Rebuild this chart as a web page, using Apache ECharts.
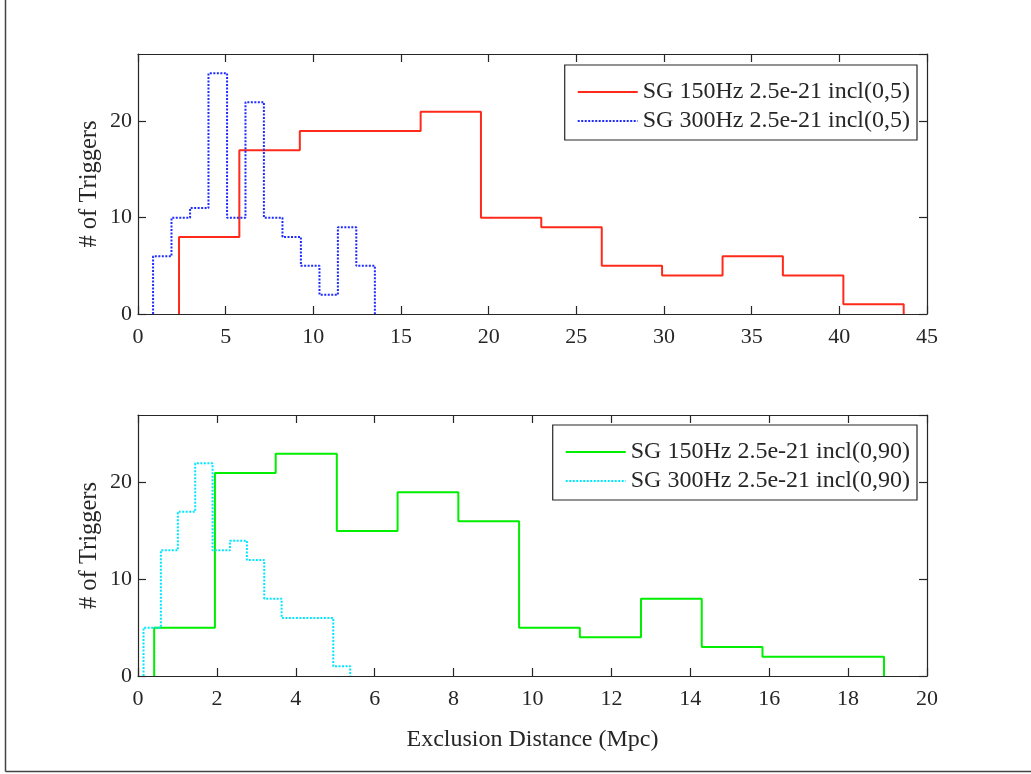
<!DOCTYPE html>
<html>
<head>
<meta charset="utf-8">
<script src="https://cdn.jsdelivr.net/npm/echarts@6/dist/echarts.min.js"></script>
<style>
html,body{margin:0;padding:0;background:#fff;}
#c{width:1031px;height:774px;}
</style>
</head>
<body>
<div id="c"></div>
<script>
// ---- data ----
var names = [
  'SG 150Hz 2.5e-21 incl(0,5)',
  'SG 300Hz 2.5e-21 incl(0,5)',
  'SG 150Hz 2.5e-21 incl(0,90)',
  'SG 300Hz 2.5e-21 incl(0,90)'
];
// top panel
var edgesRed  = [2.34, 5.78, 9.23, 12.67, 16.12, 19.56, 23.00, 26.45, 29.89, 33.34, 36.78, 40.23, 43.67];
var countsRed = [8, 17, 19, 19, 21, 10, 9, 5, 4, 6, 4, 1];
var edgesBlue  = [0.86, 1.91, 2.97, 4.02, 5.08, 6.13, 7.18, 8.24, 9.29, 10.35, 11.40, 12.45, 13.51];
var countsBlue = [6, 10, 11, 25, 10, 22, 10, 8, 5, 2, 9, 5];
// bottom panel
var edgesGreen  = [0.41, 1.95, 3.49, 5.04, 6.58, 8.12, 9.66, 11.20, 12.75, 14.29, 15.83, 17.37, 18.91];
var countsGreen = [5, 21, 23, 15, 19, 16, 5, 4, 8, 3, 2, 2];
var edgesCyan  = [0.14, 0.58, 1.01, 1.45, 1.89, 2.33, 2.76, 3.20, 3.64, 4.07, 4.51, 4.95, 5.38];
var countsCyan = [5, 13, 17, 22, 13, 14, 12, 8, 6, 6, 6, 1];
// axes
var xTopMax = 45, xTopInterval = 5;
var xBotMax = 20, xBotInterval = 2;
var yMax = 27, yInterval = 10;
var xLabel = 'Exclusion Distance (Mpc)';
var yLabel = '# of Triggers';

// build step outlines from bin edges and counts
function stairs(edges, counts) {
  var pts = [[edges[0], 0]];
  for (var i = 0; i < counts.length; i++) {
    pts.push([edges[i], counts[i]]);
    pts.push([edges[i + 1], counts[i]]);
  }
  pts.push([edges[edges.length - 1], 0]);
  return pts;
}

var FONT = 'Liberation Serif';
var AX = '#262626';
var chart = echarts.init(document.getElementById('c'));

function xAx(grid, max, interval, pos, showLabel, name) {
  return {
    type: 'value', gridIndex: grid, position: pos, min: 0, max: max, interval: interval,
    axisLine: {show: true, onZero: false, lineStyle: {color: AX, width: 1.2}},
    axisTick: {show: true, inside: true, length: 8, lineStyle: {color: AX, width: 1.2}},
    splitLine: {show: false},
    axisLabel: {show: showLabel, margin: 12, color: AX, fontFamily: FONT, fontSize: 22},
    name: name || '', nameLocation: 'middle', nameGap: 52, nameMoveOverlap: false,
    nameTextStyle: {color: AX, fontFamily: FONT, fontSize: 24}
  };
}
function yAx(grid, pos, showLabel, name) {
  return {
    type: 'value', gridIndex: grid, position: pos, min: 0, max: yMax, interval: yInterval,
    axisLine: {show: true, onZero: false, lineStyle: {color: AX, width: 1.2}},
    axisTick: {show: true, inside: true, length: 8, lineStyle: {color: AX, width: 1.2}},
    splitLine: {show: false},
    axisLabel: {show: showLabel, margin: 6, color: AX, fontFamily: FONT, fontSize: 22, showMaxLabel: false,
      formatter: function (v) { return (v % yInterval === 0) ? String(v) : ''; }},
    name: name || '', nameLocation: 'middle', nameGap: 36, nameMoveOverlap: false,
    nameTextStyle: {color: AX, fontFamily: FONT, fontSize: 24.5}
  };
}

function legend(top, data) {
  return {
    top: top, right: 114, orient: 'vertical', align: 'left',
    data: data,
    itemWidth: 60, itemHeight: 14, itemGap: 5,
    padding: [15, 7, 7, 12],
    borderColor: AX, borderWidth: 1.2, backgroundColor: '#fff',
    itemStyle: {opacity: 0},
    textStyle: {color: AX, fontFamily: FONT, fontSize: 24},
    selectedMode: false
  };
}

chart.setOption({
  animation: false,
  backgroundColor: '#fff',
  grid: [
    {left: 138, top: 54, width: 789, height: 260},
    {left: 138, top: 415, width: 789, height: 261}
  ],
  xAxis: [
    xAx(0, xTopMax, xTopInterval, 'bottom', true),
    xAx(0, xTopMax, xTopInterval, 'top', false),
    xAx(1, xBotMax, xBotInterval, 'bottom', true, xLabel),
    xAx(1, xBotMax, xBotInterval, 'top', false)
  ],
  yAxis: [
    yAx(0, 'left', true, yLabel),
    yAx(0, 'right', false),
    yAx(1, 'left', true, yLabel),
    yAx(1, 'right', false)
  ],
  legend: [
    legend(65, [names[0], names[1]]),
    legend(425, [names[2], names[3]])
  ],
  graphic: [
    {type: 'line', shape: {x1: 5.5, y1: 0, x2: 5.5, y2: 771.5}, style: {stroke: '#444', lineWidth: 1.5}, z: 100},
    {type: 'line', shape: {x1: 5.5, y1: 771.5, x2: 1031, y2: 771.5}, style: {stroke: '#444', lineWidth: 1.5}, z: 100}
  ],
  series: [
    {name: names[0], type: 'line', xAxisIndex: 0, yAxisIndex: 0, data: stairs(edgesRed, countsRed),
      symbol: 'none', lineStyle: {color: '#ff2a1a', width: 2}, itemStyle: {color: '#ff2a1a'}},
    {name: names[1], type: 'line', xAxisIndex: 0, yAxisIndex: 0, data: stairs(edgesBlue, countsBlue),
      symbol: 'none', lineStyle: {color: '#1f2bff', width: 2, type: [2, 1.5]}, itemStyle: {color: '#1f2bff'}},
    {name: names[2], type: 'line', xAxisIndex: 2, yAxisIndex: 2, data: stairs(edgesGreen, countsGreen),
      symbol: 'none', lineStyle: {color: '#00ee00', width: 2}, itemStyle: {color: '#00ee00'}},
    {name: names[3], type: 'line', xAxisIndex: 2, yAxisIndex: 2, data: stairs(edgesCyan, countsCyan),
      symbol: 'none', lineStyle: {color: '#00e8ff', width: 2, type: [2, 1.5]}, itemStyle: {color: '#00e8ff'}}
  ]
});
</script>
</body>
</html>
